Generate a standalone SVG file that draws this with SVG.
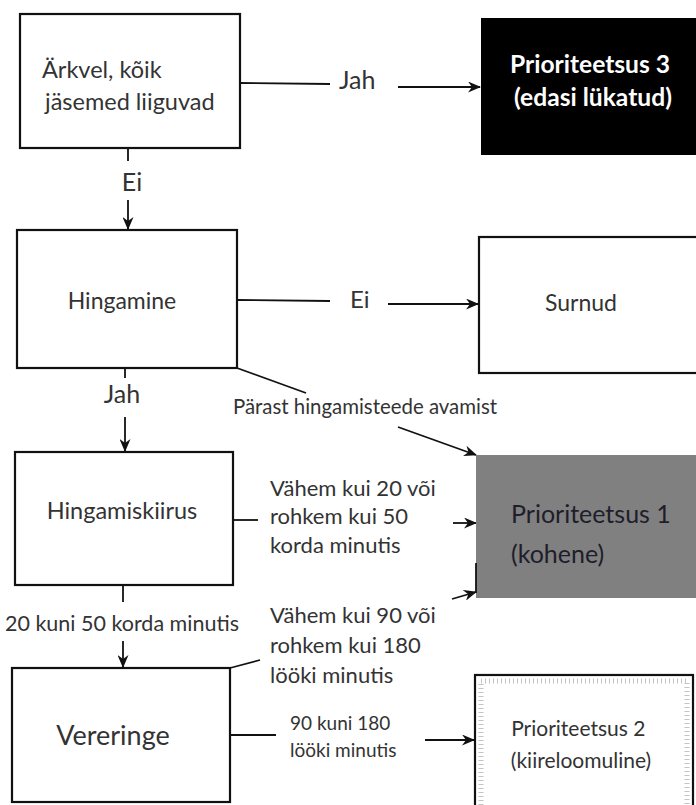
<svg xmlns="http://www.w3.org/2000/svg" width="696" height="805" viewBox="0 0 696 805">
  <defs>
    <marker id="arrow" viewBox="0 0 13 11" refX="12" refY="5.5" markerWidth="13" markerHeight="11" markerUnits="userSpaceOnUse" orient="auto">
      <path d="M0,0 L13,5.5 L0,11 L4,5.5 Z" fill="#111"/>
    </marker>
  </defs>
  <style>
    .box{fill:#fff;stroke:#111;stroke-width:2.2}
    .ln{stroke:#111;stroke-width:1.8;fill:none}
    .arr{stroke:#111;stroke-width:1.8;fill:none;marker-end:url(#arrow)}
    .t{font-family:Lato,"Liberation Sans",sans-serif;fill:#333}
    .c{text-anchor:middle}
  </style>
  <rect width="696" height="805" fill="#fff"/>

  <!-- connectors and their labels -->
  <g id="connectors">
    <line class="ln" x1="240" y1="83" x2="330" y2="84"/>
    <line class="arr" x1="398" y1="87" x2="480" y2="87"/>
    <line class="ln" x1="128" y1="148" x2="128" y2="161"/>
    <line class="arr" x1="128" y1="200" x2="128" y2="229"/>
    <line class="ln" x1="237" y1="300" x2="330" y2="301"/>
    <line class="arr" x1="388" y1="304" x2="478" y2="304"/>
    <line class="ln" x1="237" y1="368" x2="306" y2="393"/>
    <line class="arr" x1="398" y1="427" x2="476" y2="455"/>
    <line class="ln" x1="125" y1="368" x2="125" y2="378"/>
    <line class="arr" x1="125" y1="417" x2="125" y2="451"/>
    <line class="ln" x1="233" y1="520" x2="258" y2="520"/>
    <line class="arr" x1="453" y1="523" x2="476" y2="523"/>
    <line class="ln" x1="123" y1="585" x2="123" y2="602"/>
    <line class="arr" x1="123" y1="641" x2="123" y2="667"/>
    <line class="ln" x1="230" y1="668" x2="260" y2="660"/>
    <line class="arr" x1="452" y1="599" x2="476" y2="592"/>
    <line class="ln" x1="230" y1="735" x2="276" y2="735"/>
    <line class="arr" x1="425" y1="740" x2="474" y2="740"/>

    <text class="t" x="339" y="89" font-size="25">Jah</text>
    <text class="t c" x="132" y="191" font-size="25">Ei</text>
    <text class="t" x="350" y="308" font-size="24">Ei</text>
    <text class="t c" x="122" y="403" font-size="25">Jah</text>
    <text class="t" x="233" y="414" font-size="20.4">Pärast hingamisteede avamist</text>
    <text class="t" font-size="22">
      <tspan x="270" y="496">Vähem kui 20 või</tspan>
      <tspan x="270" y="524">rohkem kui 50</tspan>
      <tspan x="270" y="553">korda minutis</tspan>
    </text>
    <text class="t" x="5" y="631" font-size="21.5">20 kuni 50 korda minutis</text>
    <text class="t" font-size="22">
      <tspan x="270" y="623">Vähem kui 90 või</tspan>
      <tspan x="270" y="653">rohkem kui 180</tspan>
      <tspan x="270" y="683">lööki minutis</tspan>
    </text>
    <text class="t" font-size="19">
      <tspan x="290" y="730">90 kuni 180</tspan>
      <tspan x="290" y="757">lööki minutis</tspan>
    </text>
  </g>

  <!-- nodes -->
  <g id="awake">
    <rect class="box" x="20" y="14" width="220" height="134"/>
    <text class="t" font-size="23.5">
      <tspan x="42" y="78">Ärkvel, kõik</tspan>
      <tspan x="45" y="110">jäsemed liiguvad</tspan>
    </text>
  </g>
  <g id="priority3">
    <rect x="481" y="18" width="220" height="137" fill="#000"/>
    <text class="t c" font-size="24.6" font-weight="bold" style="fill:#fff">
      <tspan x="593" y="73">Prioriteetsus 3</tspan>
      <tspan x="593" y="106">(edasi lükatud)</tspan>
    </text>
  </g>
  <g id="breathing">
    <rect class="box" x="17" y="230" width="220" height="138"/>
    <text class="t c" x="122" y="309" font-size="23">Hingamine</text>
  </g>
  <g id="dead">
    <rect class="box" x="479" y="237" width="222" height="136"/>
    <text class="t c" x="581" y="311" font-size="23">Surnud</text>
  </g>
  <g id="resp-rate">
    <rect class="box" x="15" y="452" width="218" height="133"/>
    <text class="t c" x="122" y="519" font-size="23.5">Hingamiskiirus</text>
  </g>
  <g id="priority1">
    <rect x="476" y="455" width="222" height="143" fill="#808080"/>
    <line class="ln" x1="476" y1="563" x2="476" y2="593"/>
    <text class="t" font-size="25" style="fill:#1e1e2a">
      <tspan x="511" y="523">Prioriteetsus 1</tspan>
      <tspan x="511" y="563">(kohene)</tspan>
    </text>
  </g>
  <g id="circulation">
    <rect class="box" x="12" y="668" width="218" height="134"/>
    <text class="t c" x="113" y="745" font-size="27">Vereringe</text>
  </g>
  <g id="priority2">
    <rect class="box" x="475" y="675" width="218" height="140"/>
    <rect x="481" y="681" width="206" height="130" fill="none" stroke="#aaa" stroke-width="5" stroke-dasharray="1 3" opacity="0.7"/>
    <text class="t c" font-size="21">
      <tspan x="581" y="736">Prioriteetsus 2</tspan>
      <tspan x="581" y="768">(kiireloomuline)</tspan>
    </text>
  </g>
</svg>
